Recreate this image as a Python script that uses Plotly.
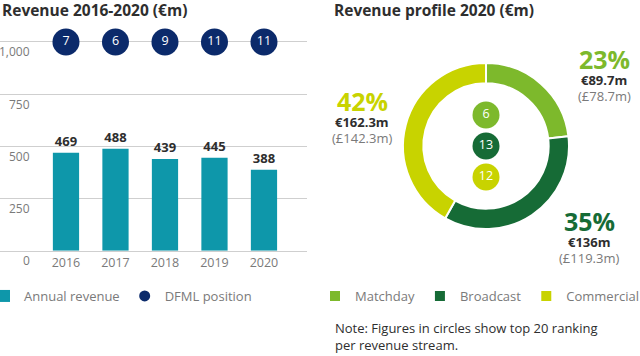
import plotly.graph_objects as go

# ---------------- data ----------------
years = [2016, 2017, 2018, 2019, 2020]
annual_revenue = [469, 488, 439, 445, 388]
dfml_position = [7, 6, 9, 11, 11]
y_ticks = [0, 250, 500, 750, 1000]

streams = ["Matchday", "Broadcast", "Commercial"]
stream_eur = [89.7, 136, 162.3]
stream_gbp = [78.7, 119.3, 142.3]
stream_rank = [6, 13, 12]

# ---------------- style ----------------
FONT = "Open Sans"
TEAL = "#0e97aa"
NAVY = "#0b2a6b"
GRID = "#cfcfcf"
TXT = "#2e2e2e"
GREY = "#7a7a7a"
stream_colors = ["#7db92c", "#166b36", "#c8d300"]

W, H = 640, 356
def py(px):
    return 1 - px / H

fig = go.Figure()

# Bars
fig.add_trace(go.Bar(
    x=years, y=annual_revenue, name="Annual revenue",
    marker=dict(color=TEAL, line=dict(width=0)),
    width=0.53,
    text=[str(v) for v in annual_revenue], textposition="outside",
    textfont=dict(family=FONT, size=13, color=TXT, weight="bold"),
    cliponaxis=False, legend="legend", xaxis="x", yaxis="y",
    hoverinfo="x+y",
))

# DFML position circles (plotted on the 1,000 line)
fig.add_trace(go.Scatter(
    x=years, y=[1000] * len(years), mode="markers+text",
    marker=dict(size=27, color=NAVY),
    text=[str(v) for v in dfml_position], textposition="middle center",
    textfont=dict(family=FONT, size=12.5, color="white"),
    cliponaxis=False, showlegend=False, xaxis="x", yaxis="y",
    hoverinfo="text",
))
# legend entry for DFML position
fig.add_trace(go.Scatter(
    x=[None], y=[None], mode="markers", name="DFML position",
    marker=dict(size=11, color=NAVY), legend="legend", xaxis="x", yaxis="y",
))

# Donut
pie_dom_x = [403 / W, 569 / W]
pie_dom_y = [py(229), py(63)]
fig.add_trace(go.Pie(
    labels=streams, values=stream_eur, hole=0.755,
    marker=dict(colors=stream_colors, line=dict(color="white", width=2)),
    sort=False, direction="clockwise", rotation=0,
    textinfo="none", domain=dict(x=pie_dom_x, y=pie_dom_y),
    legend="legend2", hoverinfo="label+value",
))

# Ranking circles inside the donut
fig.add_trace(go.Scatter(
    x=[0] * len(stream_rank), y=[0.373 * (1 - i) for i in range(len(stream_rank))],
    mode="markers+text",
    marker=dict(size=27, color=stream_colors),
    text=[str(r) for r in stream_rank], textposition="middle center",
    textfont=dict(family=FONT, size=12.5, color="white"),
    showlegend=False, xaxis="x3", yaxis="y3", cliponaxis=False, hoverinfo="text",
))

# ---------------- axes ----------------
y_dom = [py(250.7), py(37.8)]
fig.update_layout(
    xaxis=dict(domain=[0, 307 / W], range=[2014.667, 2020.869],
               tickvals=years, ticktext=[str(y) for y in years],
               showgrid=False, zeroline=False, showline=True, linecolor=GRID, linewidth=1,
               ticks="", tickfont=dict(family=FONT, size=12.5, color=GREY),
               anchor="y", fixedrange=True),
    yaxis=dict(domain=y_dom, range=[0, 1020], tickvals=y_ticks,
               showticklabels=False, showgrid=True, gridcolor=GRID, gridwidth=1,
               zeroline=False, showline=False, ticks="", anchor="x", fixedrange=True),
    xaxis3=dict(domain=pie_dom_x, range=[-1, 1], visible=False, anchor="y3", fixedrange=True),
    yaxis3=dict(domain=pie_dom_y, range=[-1, 1], visible=False, anchor="x3", fixedrange=True),
)

annotations = []
# y tick labels (below gridlines)
for v in y_ticks:
    annotations.append(dict(
        x=32 / W, xref="paper", xanchor="right", y=v, yref="y", yanchor="middle",
        yshift=-10, text=f"{v:,}", showarrow=False,
        font=dict(family=FONT, size=12, color=GREY)))

# Titles
annotations.append(dict(x=0, y=py(10), xref="paper", yref="paper", xanchor="left",
                        yanchor="middle", text="<b>Revenue 2016-2020 (€m)</b>",
                        showarrow=False, font=dict(family=FONT, size=15.5, color=TXT)))
annotations.append(dict(x=332 / W, y=py(10), xref="paper", yref="paper", xanchor="left",
                        yanchor="middle", text="<b>Revenue profile 2020 (€m)</b>",
                        showarrow=False, font=dict(family=FONT, size=15.5, color=TXT)))

# Donut labels
total = sum(stream_eur)
label_pos = [(604, 59), (589, 221), (362, 101)]  # centre x, y of percentage
for i, (cx, cy) in enumerate(label_pos):
    pct = round(stream_eur[i] / total * 100)
    eur = f"{stream_eur[i]:g}"
    annotations.append(dict(x=cx / W, y=py(cy), xref="paper", yref="paper",
                            xanchor="center", yanchor="middle", text=f"<b>{pct}%</b>",
                            showarrow=False, borderpad=0,
                            font=dict(family=FONT, size=25, color=stream_colors[i])))
    annotations.append(dict(x=cx / W, y=py(cy + 21), xref="paper", yref="paper",
                            xanchor="center", yanchor="middle", text=f"<b>€{eur}m</b>",
                            showarrow=False, borderpad=0,
                            font=dict(family=FONT, size=13, color=TXT)))
    annotations.append(dict(x=cx / W, y=py(cy + 37), xref="paper", yref="paper",
                            xanchor="center", yanchor="middle", text=f"(£{stream_gbp[i]:g}m)",
                            showarrow=False, borderpad=0,
                            font=dict(family=FONT, size=13, color=GREY)))

# Note
annotations.append(dict(x=333 / W, y=py(336.5), xref="paper", yref="paper",
                        xanchor="left", yanchor="middle", align="left",
                        text="Note: Figures in circles show top 20 ranking<br>per revenue stream.",
                        showarrow=False, font=dict(family=FONT, size=13, color=TXT)))

fig.update_layout(
    width=W, height=H, margin=dict(l=0, r=0, t=0, b=0, autoexpand=False),
    paper_bgcolor="white", plot_bgcolor="rgba(0,0,0,0)",
    font=dict(family=FONT, color=TXT),
    annotations=annotations,
    bargap=0.47,
    legend=dict(orientation="h", x=-0.025, y=py(296), xanchor="left", yanchor="middle",
                font=dict(family=FONT, size=13, color=GREY), bgcolor="rgba(0,0,0,0)",
                itemclick=False, itemdoubleclick=False),
    legend2=dict(orientation="h", x=315 / W, y=py(296), xanchor="left", yanchor="middle",
                 font=dict(family=FONT, size=13, color=GREY), bgcolor="rgba(0,0,0,0)",
                 itemclick=False, itemdoubleclick=False),
)

fig.write_html("out.html", config=dict(displayModeBar=False),
               post_script="document.body.style.margin='0';")
